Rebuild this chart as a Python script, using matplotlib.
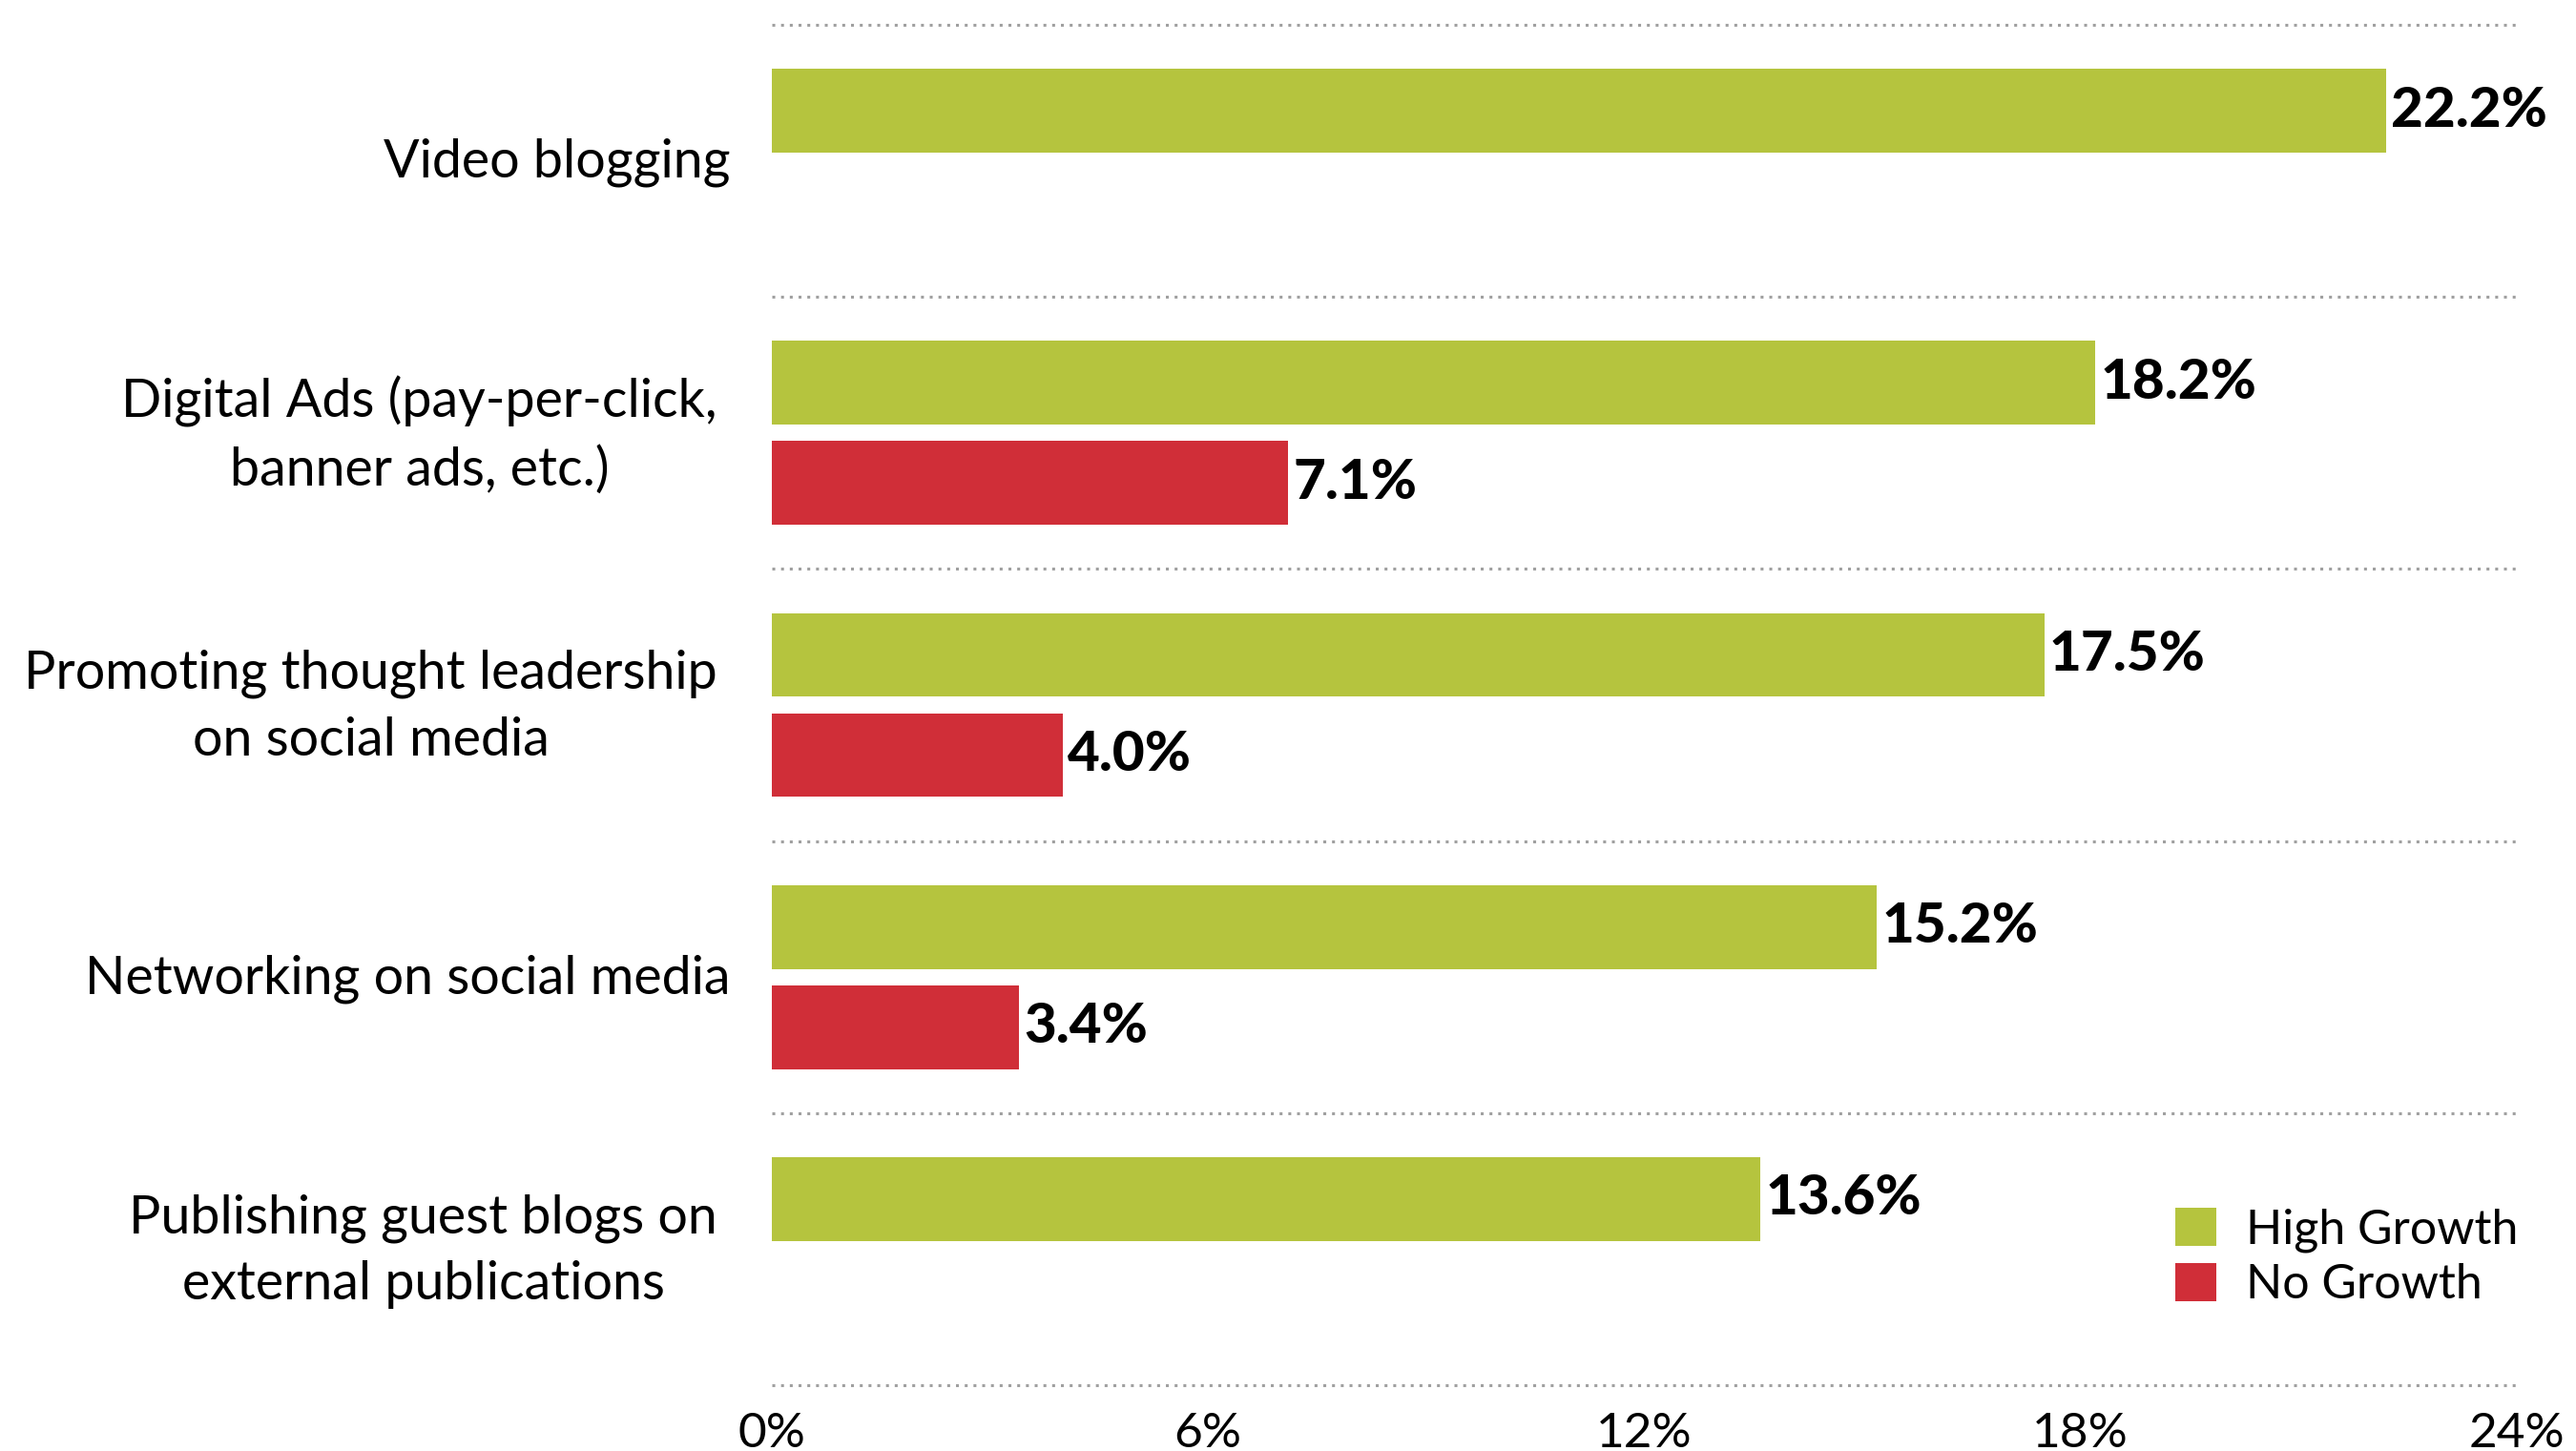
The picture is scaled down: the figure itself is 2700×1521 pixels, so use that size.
import matplotlib
matplotlib.use("Agg")
import matplotlib.pyplot as plt
import matplotlib.transforms as mtransforms
import numpy as np

categories = [
    "Video blogging",
    "Digital Ads (pay-per-click,\nbanner ads, etc.)",
    "Promoting thought leadership\non social media",
    "Networking on social media",
    "Publishing guest blogs on\nexternal publications",
]
high_growth = [22.2, 18.2, 17.5, 15.2, 13.6]
no_growth = [None, 7.1, 4.0, 3.4, None]
x_ticks = [0, 6, 12, 18, 24]
x_tick_labels = ["0%", "6%", "12%", "18%", "24%"]

green = "#B5C43E"
red = "#D02E38"

plt.rcParams['font.family'] = ['Lato', 'DejaVu Sans']

fig = plt.figure(figsize=(27, 15.21), dpi=100)
ax = fig.add_axes([0.2996, 0.0454, 0.6774, 0.9375])

y = np.arange(len(categories))
bar_h = 0.308
off = 0.184

for i in range(len(categories)):
    ax.barh(y[i] - off, high_growth[i], height=bar_h, color=green,
            label="High Growth" if i == 0 else None)
    ax.text(high_growth[i] + 0.07, y[i] - off, "{:.1f}%".format(high_growth[i]),
            va="center", ha="left", fontsize=42, fontweight="black")
    if no_growth[i] is not None:
        ax.barh(y[i] + off, no_growth[i], height=bar_h, color=red,
                label="No Growth" if i == 1 else None)
        ax.text(no_growth[i] + 0.07, y[i] + off, "{:.1f}%".format(no_growth[i]),
                va="center", ha="left", fontsize=42, fontweight="black")

# dotted separators between groups
for k in np.arange(-0.5, len(categories) + 0.5, 1):
    ax.axhline(k, color="#a0a0a0", lw=2.2, linestyle=(0, (1, 2)), clip_on=False)

ax.set_xlim(0, 24)
ax.set_ylim(len(categories) - 0.5, -0.5)
ax.set_xticks(x_ticks)
ax.set_xticklabels(x_tick_labels)
ax.set_yticks([])

# category labels, drawn by hand so multi-line ones can sit a bit differently
ytrans = ax.get_yaxis_transform()
for i, cat in enumerate(categories):
    if "\n" in cat:
        shift = mtransforms.ScaledTranslation(-41 / 72, 8.5 / 72, fig.dpi_scale_trans)
    else:
        shift = mtransforms.ScaledTranslation(-31 / 72, 2.5 / 72, fig.dpi_scale_trans)
    ax.text(0, y[i], cat, transform=ytrans + shift, ha="right", va="center_baseline",
            multialignment="center", linespacing=1.45, fontsize=40)

ax.tick_params(axis="x", length=0, pad=20, labelsize=37)
ax.tick_params(axis="y", length=0)
for s in ax.spines.values():
    s.set_visible(False)

leg = ax.legend(loc="upper left", bbox_to_anchor=(0.8444, 1 - 1266 / 1521),
                bbox_transform=fig.transFigure, frameon=False, fontsize=36,
                handlelength=0.86, handleheight=0.86, handletextpad=0.62,
                labelspacing=0.22, borderpad=0, borderaxespad=0)

plt.savefig("out.png", dpi=100, facecolor="white")
